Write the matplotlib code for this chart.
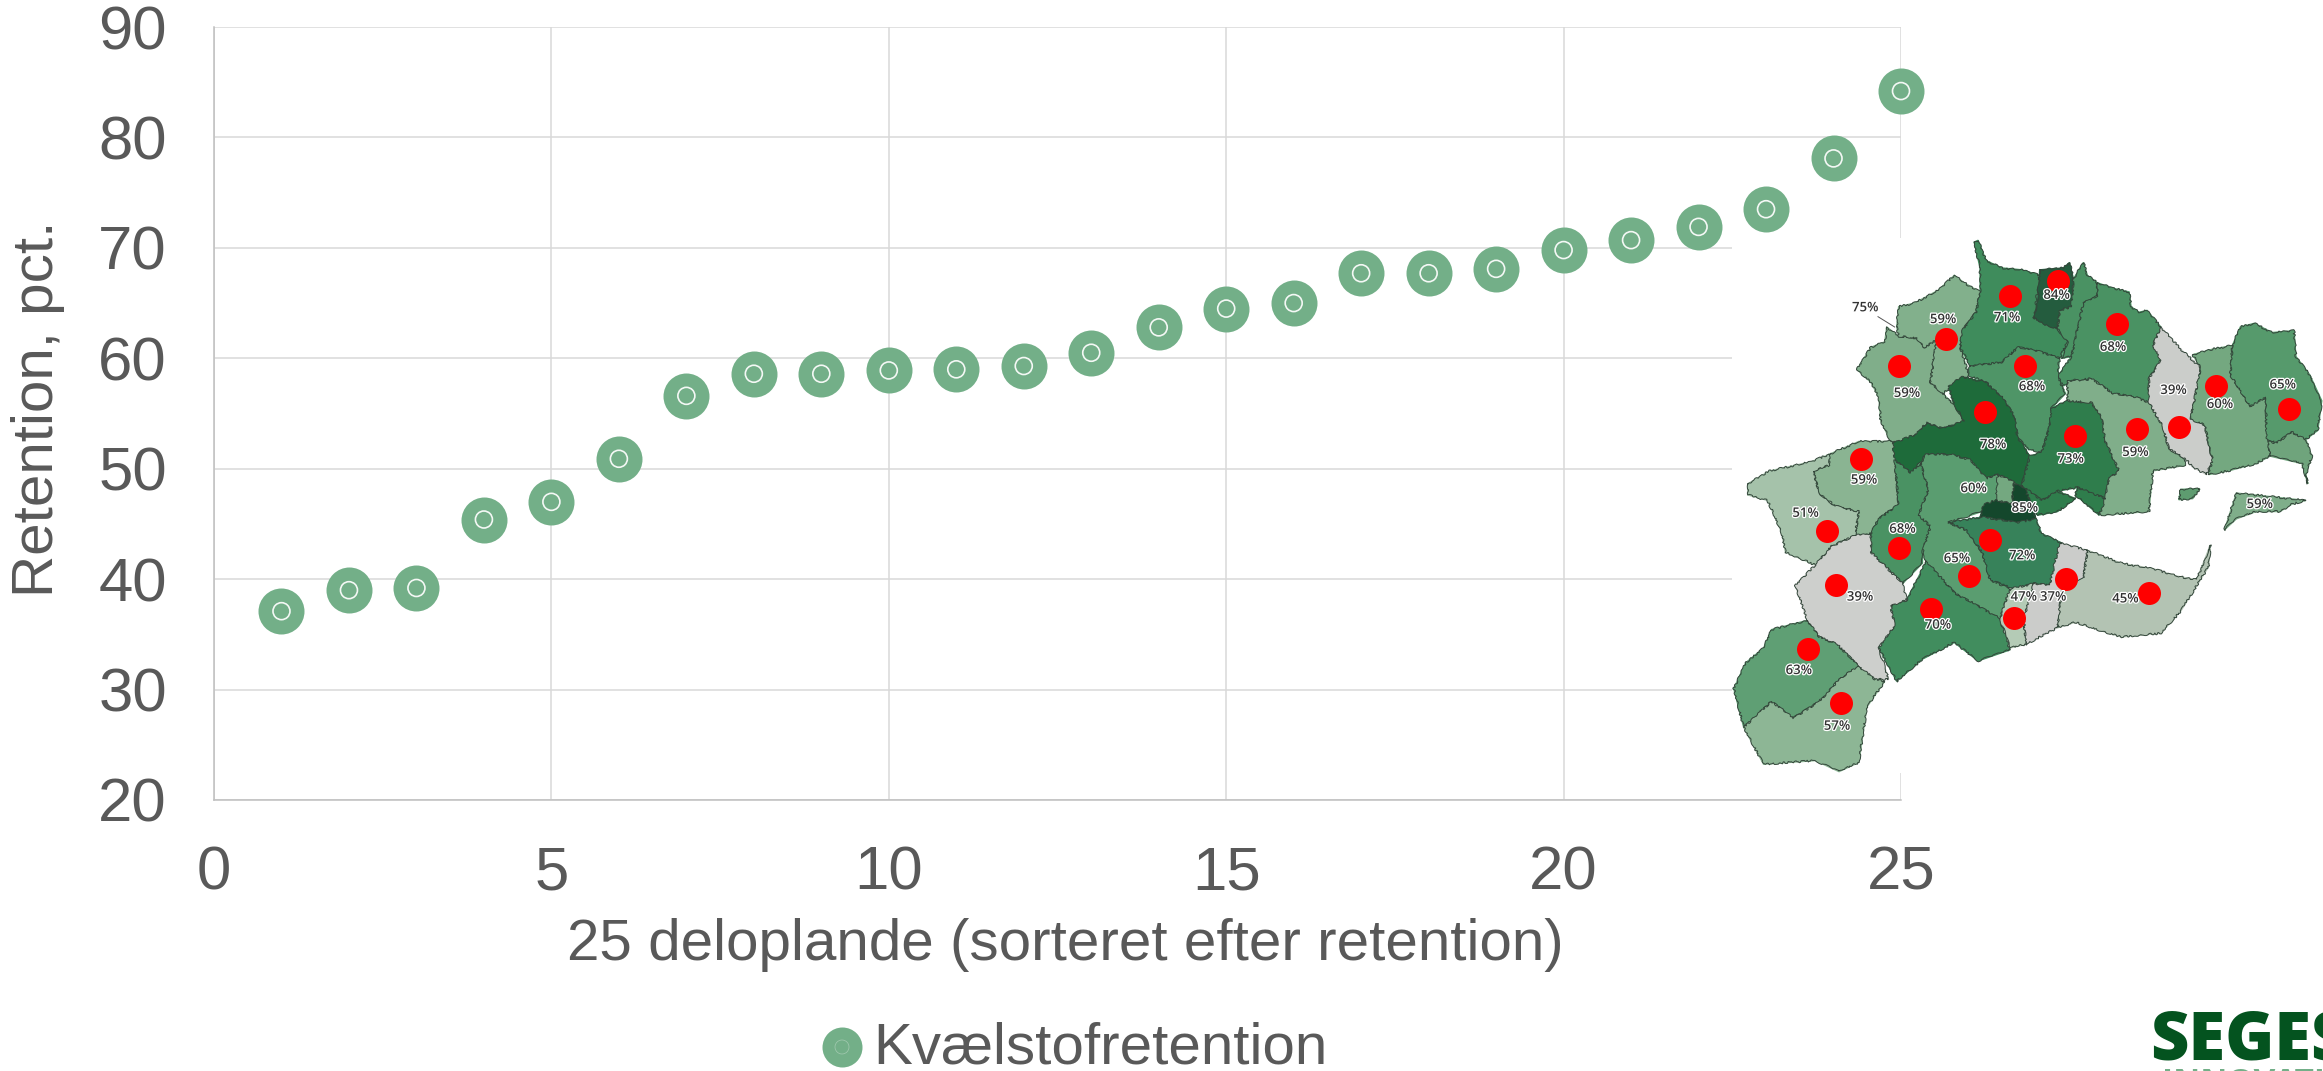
import matplotlib
matplotlib.use("Agg")
import matplotlib.pyplot as plt
import matplotlib.patheffects as pe
from matplotlib.patches import Polygon, Rectangle

plt.rcParams["font.family"] = ["Liberation Sans", "DejaVu Sans"]

# chart data
deloplande = list(range(1, 26))
retention = [37.1, 39.0, 39.2, 45.4, 47.0, 50.9, 56.6, 58.6, 58.6, 58.9, 59.0, 59.3, 60.5,
             62.8, 64.5, 65.0, 67.7, 67.7, 68.1, 69.8, 70.7, 71.9, 73.5, 78.1, 84.2]
x_ticks = [0, 5, 10, 15, 20, 25]
y_ticks = [20, 30, 40, 50, 60, 70, 80, 90]
series_name = "Kvælstofretention"
x_title = "25 deloplande (sorteret efter retention)"
y_title = "Retention, pct."

GREEN = "#73AF88"
GREY_TEXT = "#595959"
W, H = 2323, 1071

# map of the catchment (crop coordinates)
map_areas = [
    ("#80AE8A", [(470,290),(500,315),(545,320),(565,345),(595,325),(580,440),(610,470),(640,500),(665,545),(610,565),(570,550),(545,580),(500,605),(480,600),(455,545),(450,480),(430,440),(395,405),(430,345),(465,330)]),
    ("#82B08C", [(495,290),(500,235),(540,225),(600,190),(640,150),(665,170),(705,195),(695,250),(660,300),(655,345),(670,395),(675,420),(640,450),(610,470),(580,440),(595,325),(565,345),(545,320),(500,315)]),
    ("#3F8C5C", [(690,60),(700,55),(720,110),(760,130),(810,135),(855,150),(840,265),(900,295),(925,330),(905,375),(850,355),(800,345),(760,385),(730,390),(680,395),(655,345),(660,300),(695,250),(705,195),(705,130)]),
    ("#245C3E", [(855,135),(915,130),(930,115),(940,160),(935,235),(905,245),(900,295),(860,280),(840,265),(850,215)]),
    ("#4A9263", [(940,160),(965,115),(975,150),(1000,170),(1000,205),(965,225),(935,370),(910,375),(925,330),(900,295),(905,245),(935,235)]),
    ("#4A9263", [(1000,170),(1040,185),(1080,195),(1085,235),(1105,250),(1125,245),(1160,290),(1140,340),(1160,380),(1130,430),(1130,495),(1095,480),(1040,470),(985,430),(930,435),(915,450),(900,425),(935,370),(965,225),(1000,205)]),
    ("#4F9567", [(680,395),(730,390),(760,385),(800,345),(850,355),(905,375),(900,425),(920,470),(885,510),(880,560),(860,630),(825,620),(800,590),(790,530),(760,480),(720,440),(675,420)]),
    ("#1E6B3A", [(625,450),(660,425),(720,440),(760,480),(790,530),(800,590),(830,640),(810,720),(790,710),(750,690),(720,700),(680,650),(630,635),(570,635),(530,685),(490,650),(485,605),(545,580),(570,550),(610,565),(665,545),(640,500)]),
    ("#2F7D4C", [(885,510),(925,490),(985,495),(1010,530),(1020,600),(1055,680),(1030,700),(1020,755),(950,725),(900,735),(860,760),(810,720),(830,640),(860,630),(880,560)]),
    ("#80AE8A", [(925,435),(965,435),(985,430),(1040,470),(1095,480),(1130,495),(1165,560),(1180,620),(1220,645),(1220,665),(1140,680),(1130,790),(1010,800),(1000,760),(1020,755),(1030,700),(1055,680),(1020,600),(1010,530),(985,495),(925,490)]),
    ("#CBCDCA", [(1160,290),(1210,350),(1260,400),(1235,540),(1270,555),(1290,650),(1275,690),(1240,670),(1220,645),(1180,620),(1165,560),(1130,495),(1130,430),(1160,380),(1140,340)]),
    ("#74A880", [(1240,365),(1290,350),(1340,340),(1335,420),(1385,505),(1425,480),(1425,530),(1435,640),(1400,660),(1330,680),(1280,690),(1290,650),(1270,555),(1235,540),(1260,400)]),
    ("#569A6C", [(1340,340),(1360,290),(1395,280),(1440,305),(1495,300),(1500,370),(1535,420),(1565,490),(1555,570),(1525,595),(1490,575),(1450,605),(1425,590),(1425,480),(1385,505),(1335,420)]),
    ("#6FA47C", [(1435,640),(1430,600),(1450,605),(1490,575),(1525,595),(1540,640),(1525,690),(1530,715),(1515,660)]),
    ("#7FAE8A", [(1350,740),(1440,750),(1525,760),(1490,770),(1460,790),(1400,790),(1350,810),(1320,840),(1335,790)]),
    ("#5E9C70", [(1210,730),(1258,728),(1240,755),(1205,758)]),
    ("#8AB492", [(285,680),(325,665),(325,635),(400,600),(485,600),(490,650),(500,770),(450,810),(430,850),(390,855),(400,790),(340,775),(300,740)]),
    ("#A5C2AA", [(120,715),(175,680),(280,655),(325,635),(325,665),(285,680),(300,740),(340,775),(400,790),(390,855),(330,885),(290,935),(215,900),(205,845),(170,760),(120,745)]),
    ("#4A9263", [(490,650),(530,685),(555,660),(575,730),(550,800),(580,830),(560,900),(560,930),(510,985),(430,900),(430,850),(450,810),(500,770)]),
    ("#5A9D70", [(555,660),(570,635),(630,635),(680,650),(720,700),(750,690),(770,760),(710,790),(625,820),(670,840),(710,900),(730,975),(780,1000),(755,1080),(640,1010),(570,930),(560,900),(580,830),(550,800),(575,730)]),
    ("#74A880", [(750,690),(790,710),(790,715),(785,770),(745,760)]),
    ("#2F7D4C", [(810,720),(860,760),(900,735),(945,755),(900,790),(850,800),(840,780)]),
    ("#14472C", [(705,805),(715,770),(745,760),(785,770),(790,715),(815,725),(840,780),(845,810),(800,820)]),
    ("#37825A", [(625,820),(710,805),(800,820),(845,810),(860,850),(910,875),(905,930),(880,990),(840,985),(790,1000),(730,975),(710,900),(670,840)]),
    ("#2F7D4C", [(950,725),(1020,755),(1005,800),(945,745)]),
    ("#418D5E", [(570,925),(640,1010),(755,1080),(780,1165),(700,1195),(640,1145),(560,1190),(495,1250),(450,1160),(490,1100),(480,1045),(520,1030)]),
    ("#CDCFCC", [(430,850),(430,900),(510,985),(520,1030),(480,1045),(490,1100),(450,1160),(475,1245),(440,1245),(400,1210),(345,1150),(300,1130),(270,1085),(240,990),(290,935),(330,885),(390,855)]),
    ("#5F9F74", [(270,1085),(300,1130),(345,1150),(400,1210),(355,1240),(300,1305),(235,1350),(180,1305),(110,1375),(85,1270),(115,1200),(160,1160),(180,1110)]),
    ("#8DB695", [(400,1210),(440,1245),(465,1250),(420,1320),(400,1470),(350,1495),(290,1465),(160,1475),(110,1375),(180,1305),(235,1350),(300,1305),(355,1240)]),
    ("#B4CBB6", [(755,1080),(780,1000),(840,985),(815,1080),(820,1150),(780,1160)]),
    ("#CBCCCA", [(840,985),(880,990),(905,875),(975,895),(965,970),(910,1010),(900,1105),(820,1150),(815,1080)]),
    ("#B3C3B3", [(975,895),(1060,930),(1140,945),(1200,965),(1250,975),(1285,880),(1280,940),(1210,1060),(1160,1120),(1060,1130),(1000,1110),(945,1090),(900,1105),(910,1010),(965,970)]),
]
map_dots = [(780,205),(900,165),(1050,283),(618,323),(500,397),(818,397),(718,520),(945,585),(1100,566),
            (1205,561),(1300,450),(1483,512),(404,648),(320,842),(500,890),(731,868),(676,965),(343,988),
            (920,974),(1131,1012),(582,1053),(791,1078),(272,1163),(354,1309)]
map_labels = [("75%",416,238),("59%",612,270),("71%",773,265),("84%",898,204),("68%",1040,345),("59%",521,470),
              ("68%",836,452),("39%",1192,462),("60%",1309,500),("65%",1467,447),("78%",738,609),("73%",933,648),
              ("59%",1096,630),("59%",413,705),("60%",689,728),("85%",818,781),("59%",1409,771),("51%",266,795),
              ("68%",510,838),("65%",647,918),("72%",811,910),("47%",815,1022),("37%",889,1022),("45%",1071,1027),
              ("39%",403,1022),("70%",599,1098),("63%",249,1221),("57%",345,1372)]


def to_px(zx, zy):
    # crop was stretched on its way out, so x and y scale differently
    return 1700 + zx / 2.517, 220 + zy / 2.71


fig = plt.figure(figsize=(W / 100, H / 100), dpi=100)
ax = fig.add_axes([214 / W, (H - 800) / H, 1687 / W, 773 / H])

ax.scatter(deloplande, retention, s=(46 * 0.72) ** 2, color=GREEN, linewidths=0, zorder=3, clip_on=False)
ax.scatter(deloplande, retention, s=(17 * 0.72) ** 2, facecolor="none", edgecolor="#F4F8F5", linewidths=1.2,
           zorder=4, clip_on=False)

ax.set_xlim(0, 25)
ax.set_ylim(20, 90)
ax.set_xticks(x_ticks)
ax.set_yticks(y_ticks)
ax.grid(True, color="#D9D9D9", linewidth=1.1)
ax.set_axisbelow(True)
ax.tick_params(length=0, labelsize=44.5, labelcolor=GREY_TEXT)
ax.tick_params(axis="x", pad=33)
ax.tick_params(axis="y", pad=34)
for name in ["top", "right"]:
    ax.spines[name].set_visible(False)
for name in ["left", "bottom"]:
    ax.spines[name].set_color("#BFBFBF")
    ax.spines[name].set_linewidth(1.1)

fig.text(1065 / W, 1 - 945 / H, x_title, fontsize=42, color=GREY_TEXT, ha="center", va="center")
fig.text(38 / W, 1 - 409 / H, y_title, fontsize=42, color=GREY_TEXT, ha="center", va="center", rotation=90)

# overlay in pixel coordinates for the map, legend and logo
ov = fig.add_axes([0, 0, 1, 1], zorder=5)
ov.set_xlim(0, W)
ov.set_ylim(H, 0)
ov.axis("off")
ov.add_patch(Rectangle((1732, 238), 190, 535, facecolor="white", edgecolor="none", zorder=1))
for color, pts in map_areas:
    corners = [to_px(*p) for p in pts]
    ov.add_patch(Polygon(corners, closed=True, facecolor=color, edgecolor=color, linewidth=1.0, zorder=1.5))
    outline = Polygon(corners, closed=True, facecolor=color, edgecolor="#33463A",
                      linewidth=0.7, joinstyle="round", zorder=2)
    outline.set_sketch_params(scale=1.0, length=14, randomness=10)
    ov.add_patch(outline)
ov.plot([to_px(448, 262)[0], to_px(490, 290)[0]], [to_px(448, 262)[1], to_px(490, 290)[1]],
        color="#555555", linewidth=0.7, zorder=3)
dots = [to_px(*p) for p in map_dots]
ov.scatter([d[0] for d in dots], [d[1] for d in dots], s=(23 * 0.72) ** 2, color="#FF0000", linewidths=0, zorder=4)
for txt, zx, zy in map_labels:
    px, py = to_px(zx, zy)
    ov.text(px, py, txt, fontsize=9.5, family="Open Sans", weight="semibold", color="#333333", ha="center", va="center",
            zorder=5, path_effects=[pe.withStroke(linewidth=1.8, foreground="white")])

# legend
ov.scatter([842], [1047], s=(40 * 0.72) ** 2, color=GREEN, linewidths=0)
ov.scatter([842], [1047], s=(14 * 0.72) ** 2, facecolor="none", edgecolor="#A5CBB2", linewidths=0.5)
ov.text(873, 1049, series_name, fontsize=42, color=GREY_TEXT, ha="left", va="center")

# logo, runs off the page like the reference
ov.text(2150, 1060, "SEGES", fontsize=48, family="Open Sans", weight="heavy", color="#04531F", ha="left", va="baseline")
ov.text(2162, 1092, "INNOVATION", fontsize=24, family="Open Sans", weight="bold", color="#73AF88", ha="left", va="baseline")

fig.savefig("out.png", dpi=100)
